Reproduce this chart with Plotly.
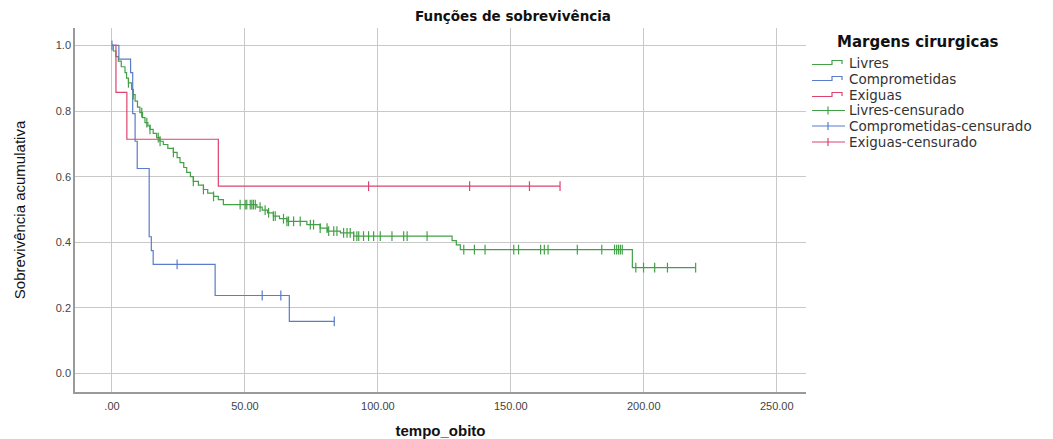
import numpy as np
import plotly.graph_objects as go

# ---- data ----
groups = ["Livres", "Comprometidas", "Exiguas"]

livres_t = [0.5, 1.5, 2.4, 3.5, 4.9, 5.5, 6.2, 7.4, 8.0, 8.7, 9.6, 10.5, 11.5, 12.4, 13.5,
            14.3, 15.5, 16.8, 18.0, 19.3, 21.0, 23.1, 24.5, 25.6, 27.0, 28.1, 29.5, 30.6,
            32.5, 34.4, 36.0, 38.2, 40.0, 41.9, 54.5, 56.5, 58.5, 60.7, 63.0, 65.8, 73.3,
            78.3, 81.0, 85.9, 90.9, 127.9, 129.5, 131.0, 195.7]
livres_s = [0.983, 0.966, 0.952, 0.935, 0.917, 0.900, 0.886, 0.866, 0.850, 0.830, 0.812,
            0.795, 0.780, 0.765, 0.755, 0.744, 0.732, 0.719, 0.708, 0.698, 0.686, 0.674,
            0.658, 0.643, 0.628, 0.613, 0.600, 0.586, 0.574, 0.561, 0.550, 0.540, 0.530,
            0.515, 0.507, 0.498, 0.490, 0.480, 0.472, 0.464, 0.454, 0.443, 0.434, 0.429,
            0.419, 0.405, 0.392, 0.378, 0.323]
livres_cens = [6.2, 8.0, 11.2, 13.1, 14.3, 17.4, 18.1, 23.1, 30.6, 34.4, 38.2, 48.2, 50.1,
               50.7, 52.0, 52.6, 53.2, 53.9, 55.7, 57.6, 58.9, 60.7, 61.4, 64.5, 65.8, 66.4,
               68.3, 70.8, 74.6, 75.8, 78.3, 80.9, 81.5, 83.4, 84.6, 87.1, 88.4, 89.6, 90.9,
               92.1, 92.8, 94.6, 96.5, 98.4, 100.9, 105.3, 109.7, 111.0, 118.5, 132.3, 136.3,
               140.3, 151.1, 152.9, 161.2, 162.6, 164.0, 175.0, 184.2, 189.0, 189.8, 190.5,
               191.2, 191.9, 197.0, 199.9, 204.1, 208.9, 219.5]

compr_t = [2.6, 7.0, 7.8, 8.7, 9.5, 14.0, 14.8, 15.5, 38.8, 66.7]
compr_s = [0.958, 0.917, 0.792, 0.708, 0.625, 0.417, 0.375, 0.333, 0.238, 0.159]
compr_cens = [0.0, 24.5, 56.5, 63.5, 83.6]

exig_t = [1.5, 5.6, 40.0]
exig_s = [0.857, 0.714, 0.571]
exig_cens = [96.5, 134.5, 157.0, 168.5]

x_ticks = [0, 50, 100, 150, 200, 250]
x_ticklabels = [".00", "50.00", "100.00", "150.00", "200.00", "250.00"]
y_ticks = [0.0, 0.2, 0.4, 0.6, 0.8, 1.0]
y_ticklabels = ["0.0", "0.2", "0.4", "0.6", "0.8", "1.0"]

legend_title = "Margens cirurgicas"
legend_labels = ["Livres", "Comprometidas", "Exiguas",
                 "Livres-censurado", "Comprometidas-censurado", "Exiguas-censurado"]

colors = {"Livres": "#43a047", "Comprometidas": "#5a7ccc", "Exiguas": "#dc436f"}

series = {
    "Livres": (livres_t, livres_s, livres_cens),
    "Comprometidas": (compr_t, compr_s, compr_cens),
    "Exiguas": (exig_t, exig_s, exig_cens),
}

# ---- layout geometry (pixels) ----
W, H = 1053, 439
ML, MR, MT, MB = 75, 247, 28, 47
PW, PH = W - ML - MR, H - MT - MB


def px(xp):
    return (xp - ML) / PW


def py(yp):
    return (H - MB - yp) / PH


def surv_at(times, surv, t):
    idx = np.searchsorted(np.array(times), t, side="right") - 1
    return 1.0 if idx < 0 else surv[idx]


fig = go.Figure()

for g in groups:
    t, s, c = series[g]
    end = max(max(c), max(t))
    xs = [0.0] + list(t) + [end]
    ys = [1.0] + list(s) + [s[-1]]
    fig.add_trace(go.Scatter(x=xs, y=ys, mode="lines", line_shape="hv",
                             line=dict(color=colors[g], width=1.2), name=g,
                             showlegend=False))

for g in groups:
    t, s, c = series[g]
    cy = [surv_at(t, s, v) for v in c]
    fig.add_trace(go.Scatter(x=c, y=cy, mode="markers", showlegend=False,
                             marker=dict(symbol="line-ns", size=7,
                                         line=dict(color=colors[g], width=1.2)),
                             name=g + "-censurado"))

# ---- manual legend (SPSS style glyphs) ----
shapes = []
annotations = []
annotations.append(dict(text=legend_title, xref="paper", yref="paper",
                        x=px(835), y=py(42), xanchor="left", yanchor="middle",
                        showarrow=False,
                        font=dict(family="DejaVu Sans", size=15, weight="bold",
                                  color="#111")))
item_y = [63, 79, 95, 110.5, 126, 142]
for i, lab in enumerate(legend_labels):
    g = groups[i % 3]
    col = colors[g]
    yc = item_y[i]
    if i < 3:
        path = (f"M {px(812)},{py(yc + 1.5)} L {px(832)},{py(yc + 1.5)} "
                f"L {px(832)},{py(yc - 2.5)} L {px(842)},{py(yc - 2.5)} "
                f"L {px(842)},{py(yc + 1)}")
        shapes.append(dict(type="path", xref="paper", yref="paper", path=path,
                           line=dict(color=col, width=1.2)))
    else:
        shapes.append(dict(type="line", xref="paper", yref="paper",
                           x0=px(812), x1=px(845), y0=py(yc), y1=py(yc),
                           line=dict(color=col, width=1.2)))
        shapes.append(dict(type="line", xref="paper", yref="paper",
                           x0=px(828), x1=px(828), y0=py(yc - 4), y1=py(yc + 4),
                           line=dict(color=col, width=1.2)))
    annotations.append(dict(text=lab, xref="paper", yref="paper",
                            x=px(847), y=py(yc), xanchor="left", yanchor="middle",
                            showarrow=False,
                            font=dict(family="DejaVu Sans", size=13.5, color="#333")))

tickfont = dict(family="Liberation Sans Narrow, Liberation Sans, Arial", size=11, color="#444")

fig.update_layout(
    width=W, height=H,
    margin=dict(l=ML, r=MR, t=MT, b=MB),
    paper_bgcolor="white", plot_bgcolor="white",
    font=dict(family="Liberation Sans, Arial", color="#222"),
    showlegend=False,
    shapes=shapes,
    annotations=annotations,
    title=dict(text="Funções de sobrevivência", x=513 / W, xref="container",
               xanchor="center", y=1 - 16 / H, yref="container", yanchor="middle",
               font=dict(family="DejaVu Sans", size=13.5, weight="bold", color="#111")),
    xaxis=dict(range=[-13.9, 261], tickvals=x_ticks, ticktext=x_ticklabels,
               showgrid=True, gridcolor="#c8c8c8", gridwidth=1,
               zeroline=False, showline=True, linecolor="#9a9a9a", linewidth=1.5,
               ticks="", tickfont=tickfont, ticklabelstandoff=3, automargin=False,
               title=dict(text="tempo_obito", standoff=16,
                          font=dict(size=15, weight="bold", color="#111"))),
    yaxis=dict(range=[-0.056, 1.053], tickvals=y_ticks, ticktext=y_ticklabels,
               showgrid=True, gridcolor="#c8c8c8", gridwidth=1,
               zeroline=False, showline=True, linecolor="#9a9a9a", linewidth=1.5,
               ticks="", tickfont=tickfont, automargin=False,
               title=dict(text="Sobrevivência acumulativa", standoff=27,
                          font=dict(family="Liberation Sans Narrow, Liberation Sans, Arial",
                                    size=15, color="#111"))),
)

fig.write_html("out.html")
